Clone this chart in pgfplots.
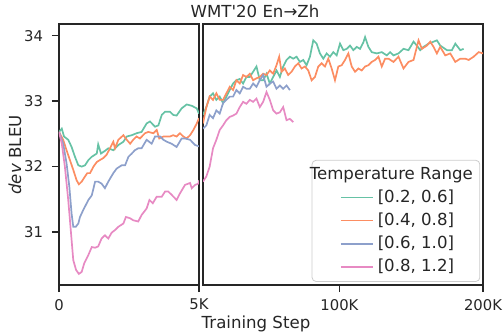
\documentclass[border=0pt]{standalone}
\usepackage{fontspec}
\setmainfont{DejaVu Sans}
\newfontfamily\plainfont{DejaVu Sans}
\usepackage{pgfplots}
\pgfplotsset{compat=1.18}
\definecolor{sgreen}{HTML}{66C2A5}
\definecolor{sorange}{HTML}{FC8D62}
\definecolor{sblue}{HTML}{8DA0CB}
\definecolor{spink}{HTML}{E78AC3}
\definecolor{spine}{HTML}{262626}
\definecolor{lgdframe}{HTML}{CCCCCC}

\pgfplotsset{
  panel/.style={
    scale only axis, height=130.5pt,
    ymin=30.19, ymax=34.18,
    axis line style={spine, line width=0.7pt},
    tick style={spine, line width=0.7pt},
    tick align=outside, major tick length=3.5pt,
    tick label style={font=\fontsize{7.4}{8.5}\selectfont, text=spine},
    xtick pos=bottom, ytick pos=left,
    every axis plot/.append style={line width=0.85pt, no markers},
  },
}

\begin{document}
\begin{tikzpicture}
\path[use as bounding box] (-29.5pt,-24pt) rectangle (222pt,142.5pt);

% left panel: 0 -- 5K
\begin{axis}[panel, at={(0pt,0pt)}, anchor=south west, width=70pt,
  xmin=0, xmax=5,
  xtick={0,5}, xticklabels={0,5K},
  ytick={31,32,33,34}, yticklabels={31,32,33,34},
  yticklabel style={xshift=-1pt},
]
\addplot[sgreen] coordinates {
(0,32.53)(0.10,32.58)(0.18,32.46)(0.33,32.41)(0.45,32.30)(0.57,32.15)(0.69,32.02)(0.81,32.00)
(0.93,32.02)(1.05,32.10)(1.17,32.15)(1.35,32.20)(1.40,32.34)(1.50,32.20)(1.64,32.24)(1.76,32.28)
(1.94,32.25)(2.12,32.33)(2.30,32.38)(2.42,32.46)(2.60,32.48)(2.77,32.51)(2.95,32.53)(3.13,32.66)
(3.25,32.69)(3.43,32.61)(3.55,32.63)(3.67,32.79)(3.79,32.84)(3.96,32.84)(4.08,32.79)(4.20,32.78)
(4.38,32.89)(4.56,32.95)(4.74,32.93)(4.92,32.89)(5.00,32.81)};
\addplot[sorange] coordinates {
(0,32.53)(0.15,32.41)(0.27,32.25)(0.39,32.10)(0.51,31.95)(0.63,31.79)(0.71,31.73)(0.81,31.77)
(0.93,31.85)(1.01,31.90)(1.11,31.90)(1.23,32.00)(1.35,32.07)(1.46,32.10)(1.58,32.13)(1.70,32.18)
(1.94,32.38)(2.00,32.28)(2.12,32.41)(2.30,32.48)(2.42,32.41)(2.54,32.35)(2.65,32.41)(2.77,32.46)
(2.89,32.43)(3.07,32.51)(3.19,32.53)(3.37,32.51)(3.49,32.56)(3.58,32.43)(3.73,32.46)(3.85,32.46)
(3.96,32.46)(4.08,32.48)(4.20,32.46)(4.32,32.51)(4.44,32.46)(4.56,32.43)(4.68,32.48)(4.80,32.56)
(4.92,32.66)(5.00,32.74)};
\addplot[sblue] coordinates {
(0,32.53)(0.15,32.35)(0.27,32.05)(0.37,31.69)(0.45,31.28)(0.51,31.08)(0.60,31.08)(0.69,31.13)
(0.75,31.23)(0.87,31.34)(1.05,31.49)(1.17,31.56)(1.29,31.77)(1.40,31.77)(1.52,31.74)(1.64,31.67)
(1.76,31.77)(1.94,31.90)(2.06,31.97)(2.24,32.02)(2.36,32.02)(2.48,32.15)(2.60,32.20)(2.71,32.25)
(2.83,32.28)(2.95,32.28)(3.13,32.41)(3.31,32.35)(3.43,32.46)(3.55,32.46)(3.61,32.46)(3.73,32.41)
(3.85,32.38)(4.02,32.35)(4.20,32.30)(4.38,32.43)(4.50,32.43)(4.68,32.41)(4.86,32.33)(5.00,32.31)};
\addplot[spink] coordinates {
(0,32.53)(0.10,32.35)(0.21,32.00)(0.33,31.49)(0.43,30.98)(0.51,30.57)(0.61,30.42)(0.71,30.36)
(0.81,30.39)(0.90,30.52)(1.05,30.65)(1.17,30.77)(1.29,30.76)(1.40,30.78)(1.52,30.90)(1.64,30.95)
(1.76,30.90)(1.88,30.99)(2.00,31.03)(2.12,31.08)(2.30,31.13)(2.39,31.23)(2.54,31.21)(2.65,31.18)
(2.83,31.16)(2.95,31.26)(3.13,31.36)(3.23,31.49)(3.35,31.44)(3.49,31.54)(3.67,31.54)(3.79,31.62)
(3.90,31.62)(4.02,31.57)(4.20,31.49)(4.32,31.59)(4.50,31.72)(4.68,31.75)(4.74,31.67)(4.86,31.72)
(4.98,31.74)(5.00,31.79)};
\end{axis}

% right panel: 5K -- 200K
\begin{axis}[panel, at={(72pt,0pt)}, anchor=south west, width=140pt,
  xmin=5, xmax=200,
  xtick={100,200}, xticklabels={100K,200K},
  ytick=\empty,
  legend cell align=left,
  legend style={at={(0.99,0.012)}, anchor=south east,
    draw=lgdframe, rounded corners=2pt, fill=white, text=spine,
    font=\fontsize{8.3}{10}\selectfont,
    inner xsep=1.5pt, inner ysep=1.5pt, row sep=-0.3pt,
    /tikz/every even column/.append style={column sep=5.5pt}},
  legend image code/.code={\path (0pt,0pt); \draw[#1] (12.5pt,0pt) -- (28.5pt,0pt);},
]
\addlegendimage{empty legend}
\addlegendentry{\hspace{-34pt}Temperature Range}
\addplot[sgreen] coordinates {
(5,32.79)(7.33,32.91)(9.65,33.07)(11.98,33.12)(14.31,33.02)(16.64,33.07)(18.96,32.97)(21.29,33.07)
(23.62,33.17)(25.94,33.27)(28.27,33.32)(30.60,33.34)(32.93,33.27)(35.25,33.37)(37.58,33.37)(39.91,33.45)
(42.23,33.53)(44.56,33.32)(46.89,33.32)(49.22,33.42)(51.54,33.27)(53.87,33.37)(56.20,33.47)(58.53,33.37)
(60.85,33.53)(63.18,33.63)(65.51,33.68)(67.83,33.65)(70.16,33.68)(72.49,33.60)(74.82,33.63)(77.14,33.55)
(79.47,33.68)(81.80,33.93)(84.12,33.88)(86.45,33.73)(88.78,33.65)(91.11,33.73)(93.43,33.68)(95.76,33.75)
(98.09,33.70)(100.41,33.88)(102.74,33.78)(105.07,33.80)(107.40,33.85)(109.72,33.78)(112.05,33.83)(114.38,33.80)
(116.71,33.90)(117.87,33.98)(120.20,33.83)(122.52,33.75)(126.01,33.73)(129.50,33.75)(132.99,33.70)(135.32,33.75)
(137.65,33.70)(141.14,33.73)(144.63,33.80)(148.12,33.78)(151.61,33.91)(153.94,33.85)(156.27,33.78)(158.59,33.83)
(162.08,33.88)(165.58,33.91)(167.90,33.93)(170.23,33.85)(174.88,33.78)(178.37,33.78)(180.70,33.88)(184.19,33.78)
(186.52,33.80)};
\addlegendentry{[0.2, 0.6]}
\addplot[sorange] coordinates {
(5,32.66)(7.33,32.91)(9.65,33.07)(11.98,33.02)(14.31,33.12)(16.64,33.02)(18.96,33.02)(21.29,33.12)
(23.62,33.22)(25.94,33.17)(28.27,33.32)(30.60,33.27)(32.93,33.40)(35.25,33.37)(37.58,33.42)(39.91,33.32)
(42.23,33.35)(44.56,33.37)(46.89,33.42)(49.22,33.40)(51.54,33.47)(53.87,33.42)(56.20,33.55)(58.06,33.68)
(59.69,33.45)(62.02,33.50)(64.34,33.40)(66.67,33.45)(69.00,33.53)(71.33,33.58)(73.65,33.50)(75.98,33.53)
(78.31,33.47)(80.63,33.32)(82.96,33.37)(85.29,33.53)(87.62,33.58)(89.94,33.53)(92.27,33.65)(94.60,33.50)
(96.92,33.32)(99.25,33.53)(101.58,33.55)(103.91,33.63)(106.23,33.73)(108.56,33.53)(110.89,33.45)(113.21,33.50)
(115.54,33.47)(117.87,33.53)(120.20,33.55)(122.52,33.60)(124.85,33.63)(127.18,33.68)(129.50,33.53)(131.83,33.65)
(134.16,33.65)(137.65,33.60)(141.14,33.68)(144.63,33.50)(148.12,33.60)(151.61,33.63)(155.10,33.93)(157.43,33.80)
(160.92,33.85)(163.25,33.91)(165.58,33.83)(167.90,33.73)(170.23,33.83)(173.72,33.70)(177.21,33.73)(180.70,33.60)
(184.19,33.65)(187.68,33.65)(190.01,33.63)(193.50,33.68)(196.99,33.75)(200,33.73)};
\addlegendentry{[0.4, 0.8]}
\addplot[sblue] coordinates {
(5,32.58)(7.33,32.63)(9.65,32.79)(11.98,32.74)(14.31,32.86)(16.64,32.81)(18.96,32.97)(21.29,33.02)
(23.62,33.07)(25.94,33.07)(28.27,33.17)(30.60,33.12)(32.93,33.22)(35.25,33.19)(37.58,33.19)(39.91,33.27)
(42.23,33.22)(44.56,33.32)(46.89,33.40)(49.22,33.22)(51.54,33.27)(53.87,33.30)(56.20,33.19)(58.53,33.24)
(60.85,33.19)(63.18,33.24)(65.51,33.17)};
\addlegendentry{[0.6, 1.0]}
\addplot[spink] coordinates {
(5,31.77)(7.33,31.85)(9.65,32.00)(11.98,32.28)(14.31,32.41)(16.64,32.56)(18.96,32.63)(21.29,32.71)
(23.62,32.76)(25.94,32.78)(28.27,32.81)(30.60,32.91)(32.93,32.99)(35.25,32.96)(37.58,33.02)(39.91,32.99)
(42.23,33.04)(44.56,32.91)(46.89,32.99)(49.22,33.14)(51.54,33.02)(53.87,32.86)(56.20,32.81)(58.53,32.83)
(60.85,32.91)(63.18,32.71)(65.51,32.73)(67.83,32.68)};
\addlegendentry{[0.8, 1.2]}
\end{axis}

\node[anchor=base, text=spine, font=\fontsize{8.3}{10}\plainfont] at (98pt,133.85pt) {WMT'20 En→Zh};
\node[anchor=base, text=spine, font=\fontsize{8.3}{10}\selectfont] at (98.5pt,-21.5pt) {Training Step};
\node[anchor=base, rotate=90, text=spine, font=\fontsize{8.3}{10}\selectfont] at (-19pt,65pt) {\textit{dev} BLEU};
\end{tikzpicture}
\end{document}
